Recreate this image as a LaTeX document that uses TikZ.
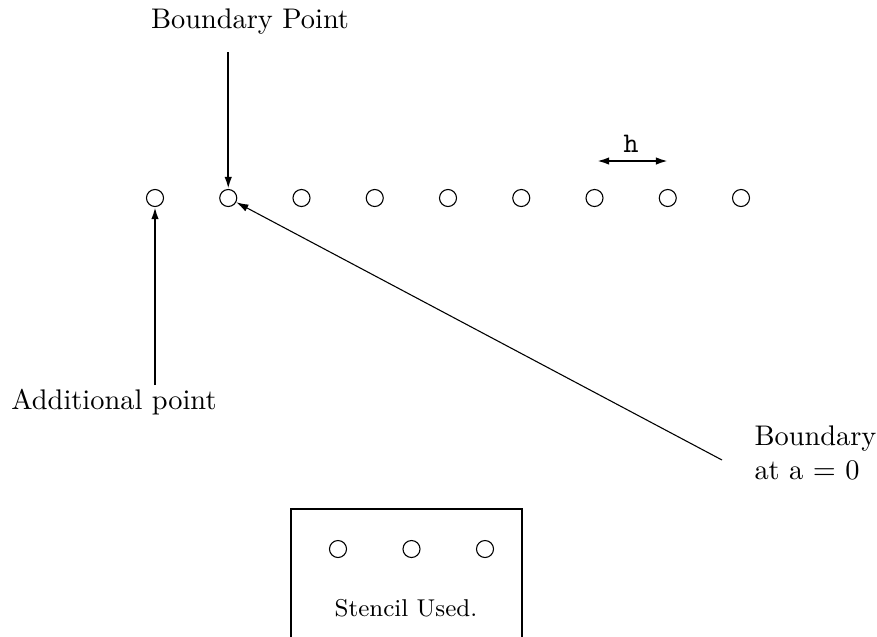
\documentclass[tikz,border=0pt]{standalone}
\usetikzlibrary{arrows.meta, positioning}

\begin{document}
\begin{tikzpicture}[x=0.37pt, y=-0.37pt, font=\fontsize{10.5}{12.3}\selectfont,
                    pt/.style={circle, draw, inner sep=0pt, minimum size=6.3pt},
                    lbl/.style={draw=none, fill=none, inner sep=0pt},
                    >={Latex[length=4.5pt, width=2.8pt]}]
  \useasboundingbox (0,0) rectangle (877,636);

  % Grid points
  \foreach \i in {0,...,8}
    \node[pt] (p\i) at (155+73.25*\i, 198) {};

  % Boundary point
  \node[lbl] (bp) at (250,22) {Boundary Point};
  \coordinate (bptop) at (228.25,52);
  \draw[->, line width=0.75pt] (bptop) -- (p1);

  % Additional point
  \node[lbl] (ap) at (114,402) {Additional point};
  \coordinate (apbot) at (155,385);
  \draw[->, line width=0.75pt] (apbot) -- (p0);

  % Boundary at a = 0
  \node[lbl, anchor=west, align=left] (bd) at (754,453) {Boundary\\at a $=$ 0};
  \coordinate (bdend) at (722,460);
  \draw[->] (bdend) -- (p1);

  % Spacing h
  \coordinate (hl) at (597,161);
  \coordinate (hr) at (668,161);
  \draw[<->, line width=0.75pt] (hl) -- (hr);
  \node[lbl] (h) at (631,144) {\texttt{h}};

  % Stencil box
  \draw[line width=0.75pt] (291,645) -- (291,509) -- (522,509) -- (522,645);
  \foreach \i in {0,1,2}
    \node[pt] (s\i) at (338+73.5*\i, 549) {};
  \node[lbl, font=\small] (st) at (406,608) {Stencil Used.};
\end{tikzpicture}
\end{document}
